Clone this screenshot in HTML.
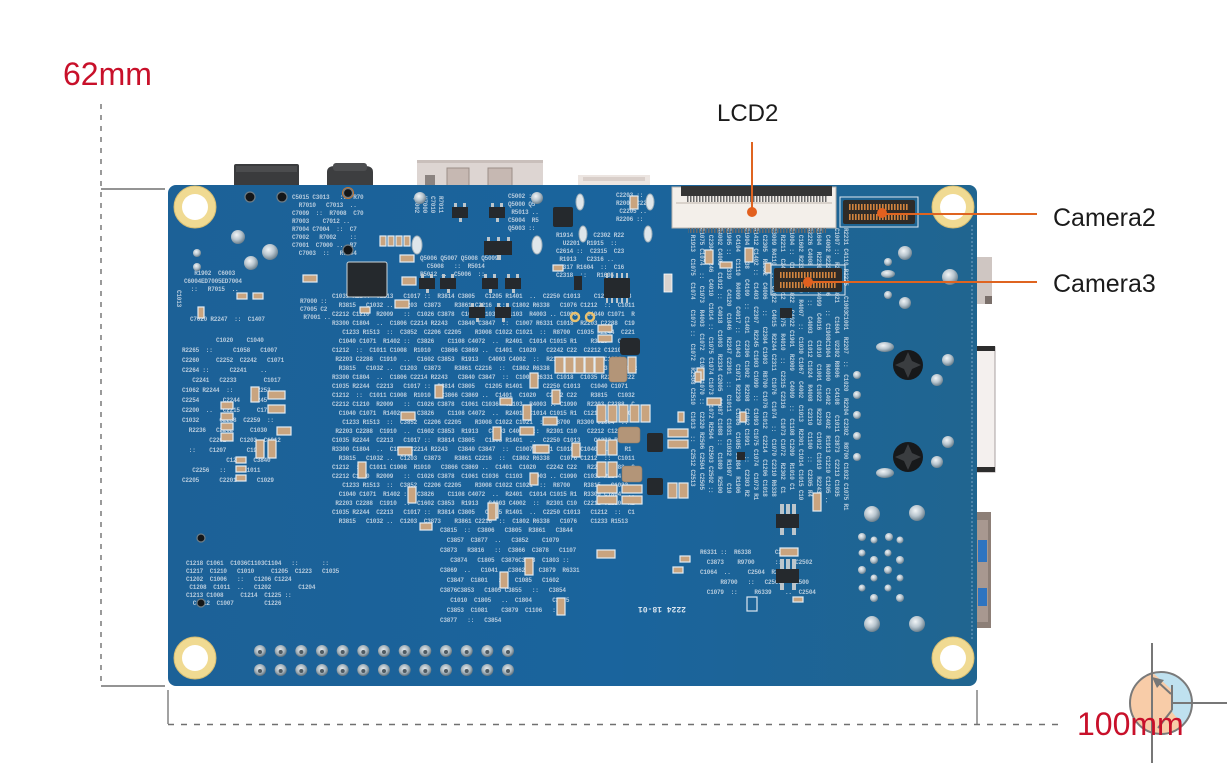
<!DOCTYPE html>
<html><head><meta charset="utf-8">
<style>
html,body{margin:0;padding:0;background:#fff;}
#c{position:relative;width:1227px;height:763px;overflow:hidden;background:#fff;}
#c svg{position:absolute;left:0;top:0;}
.b,.v{position:absolute;overflow:hidden;color:#d2deea;opacity:.85;font:bold 6px/8px "Liberation Mono",monospace;white-space:pre;letter-spacing:-0.2px;}
.v{writing-mode:vertical-rl;}
.sp{line-height:10px;}
.m{line-height:9px;}
</style></head>
<body><div id="c">

<svg width="1227" height="763" style="z-index:0">
<defs>
<linearGradient id="bd" x1="0" x2="1" y1="0" y2="0">
<stop offset="0" stop-color="#1c6197"/><stop offset=".55" stop-color="#1a649d"/><stop offset="1" stop-color="#206590"/>
</linearGradient>
</defs>
<g stroke="#707070" fill="none">
<line x1="101" y1="104" x2="101" y2="686" stroke-width="1.4" stroke-dasharray="5 6"/>
<line x1="101" y1="189" x2="165" y2="189" stroke-width="1.6"/>
<line x1="101" y1="686" x2="165" y2="686" stroke-width="1.6"/>
<line x1="168" y1="690" x2="168" y2="724" stroke-width="1.3"/>
<line x1="977" y1="690" x2="977" y2="724" stroke-width="1.3"/>
<line x1="168" y1="724.5" x2="1062" y2="724.5" stroke-width="1.4" stroke-dasharray="6 7"/>
</g>
<rect x="234" y="164" width="65" height="24" rx="2" fill="#3a3b3d"/>
<rect x="236" y="166" width="61" height="6" fill="#4b4c4e"/>
<path d="M327 188 V172 Q327 166 335 166 H365 Q373 166 373 172 V188Z" fill="#3d3e40"/>
<rect x="333" y="163" width="34" height="8" rx="3" fill="#4d4e50"/>
<rect x="417" y="160" width="126" height="28" fill="#ddd5d2"/>
<rect x="417" y="160" width="126" height="3" fill="#c9bfbb"/>
<rect x="447" y="168" width="22" height="18" fill="#c6b8b2" stroke="#9c8e88"/>
<rect x="488" y="168" width="24" height="18" fill="#c6b8b2" stroke="#9c8e88"/>
<rect x="425" y="175" width="10" height="11" fill="#8b8380"/>
<rect x="578" y="175" width="72" height="13" fill="#ece5e1"/>
<rect x="583" y="177" width="62" height="4" fill="#d9cfca"/>
<rect x="974" y="257" width="18" height="47" fill="#cfc6c2"/>
<rect x="985" y="296" width="7" height="8" fill="#7a6f6a"/>
<rect x="974" y="347" width="21" height="125" fill="#f4f0ee" stroke="#a8a0a0"/>
<rect x="976" y="346" width="19" height="5" fill="#2d2d2d"/>
<rect x="976" y="467" width="19" height="5" fill="#2d2d2d"/>
<rect x="974" y="512" width="17" height="116" fill="#8d7f77"/>
<rect x="977" y="520" width="11" height="102" fill="#a89890"/>
<rect x="978" y="540" width="9" height="22" fill="#2e74c0"/>
<rect x="978" y="588" width="9" height="18" fill="#2e74c0"/>
<rect x="168" y="185" width="809" height="501" rx="8" fill="url(#bd)"/>
<line x1="972" y1="225" x2="972" y2="640" stroke="#8fb4d0" stroke-width="0.8" stroke-dasharray="2 2"/>
</svg>

<!-- silkscreen text -->
<div class="b" style="left:292px;top:194px;width:118px;height:64px">C5015 C3013   ::  R70
  R7010   C7013  ..
C7009  ::  R7008  C70
R7003    C7012 ..
R7004 C7004  ::  C7
C7002   R7002    ::
C7001  C7000 ..  R7
  C7003  ::   R7004</div>
<div class="v" style="left:412px;top:196px;width:32px;height:46px">R7011
C7010
U7000
Q5002</div>
<div class="b" style="left:508px;top:193px;width:46px;height:44px">C5002 ::
Q5000 Q5
 R5013 ..
C5004  R5
Q5003 ::</div>
<div class="b" style="left:556px;top:232px;width:112px;height:54px">R1914  ::  C2302 R22
  U2201  R1915  ::
C2614 ::  C2315  C23
 R1913   C2316 ..
C2317 R1604  ::  C16
C2318  ::   R1605</div>
<div class="b" style="left:616px;top:192px;width:52px;height:36px">C2203 ::
R2004 C22
 C2205 ..
R2206 ::</div>
<div class="b" style="left:184px;top:270px;width:108px;height:30px">   R1902  C6003
C6004ED7005ED7004
  ::   R7015  ..</div>
<div class="v" style="left:172px;top:290px;width:10px;height:32px">C1013</div>
<div class="b" style="left:190px;top:316px;width:130px;height:16px">C7020 R2247  ::  C1407</div>
<div class="b" style="left:300px;top:298px;width:48px;height:26px">R7000 ::
C7005 C2
 R7001 ..</div>
<div class="b" style="left:420px;top:255px;width:130px;height:24px">Q5006 Q5007 Q5008 Q5009
  C5008   ::  R5014
R5012 ..  C5006  ::</div>

<div class="b m" style="left:332px;top:292px;width:336px;height:232px">C1035 R2244  C2213   C1017 ::  R3814 C3805   C1205 R1401  ..  C2250 C1013    C1233 R1513
  R3815   C1032 ..  C1203  C3873    R3861 C2216  ::  C1802 R6338   C1076 C1212  ::  C1011
C2212 C1210  R2009   ::  C1026 C3878  C1061 C1036  C1103  R4003 .. C1090   C1040 C1071  R
R3300 C1804  ..  C1806 C2214 R2243   C3840 C3847  ::  C1007 R6331 C1018  R2203 C2288  C19
   C1233 R1513  ::  C3852  C2206 C2205    R3008 C1022 C1021  ::  R8700  C1035 R2244  C221
  C1040 C1071  R1402 ::  C3826    C1108 C4072  ..  R2401  C1014 C1015 R1    R3815   C1032
C1212  ::  C1011 C1008  R1010   C3866 C3869 ..  C1401  C1020   C2242 C22  C2212 C1210  R20
 R2203 C2288  C1910  ..  C1602 C3853  R1913   C4003 C4002  ::  R2301 C10  R3300 C1804  ..
  R3815   C1032 ..  C1203  C3873    R3861 C2216  ::  C1802 R6338   C1076    C1233 R1513  :
R3300 C1804  ..  C1806 C2214 R2243   C3840 C3847  ::  C1007 R6331 C1018  C1035 R2244  C22
C1035 R2244  C2213   C1017 ::  R3814 C3805   C1205 R1401  ..  C2250 C1013   C1040 C1071
C1212  ::  C1011 C1008  R1010   C3866 C3869 ..  C1401  C1020   C2242 C22    R3815   C1032
C2212 C1210  R2009   ::  C1026 C3878  C1061 C1036  C1103  R4003 .. C1090   R2203 C2288  C
  C1040 C1071  R1402 ::  C3826    C1108 C4072  ..  R2401  C1014 C1015 R1  C1212  ::  C101
   C1233 R1513  ::  C3852  C2206 C2205    R3008 C1022 C1021  ::  R8700  R3300 C1804  ..
 R2203 C2288  C1910  ..  C1602 C3853  R1913   C4003 C4002  ::  R2301 C10   C2212 C1210  R2
C1035 R2244  C2213   C1017 ::  R3814 C3805   C1205 R1401  ..  C2250 C1013    C1233 R1513
R3300 C1804  ..  C1806 C2214 R2243   C3840 C3847  ::  C1007 R6331 C1018  C1040 C1071  R1
  R3815   C1032 ..  C1203  C3873    R3861 C2216  ::  C1802 R6338   C1076 C1212  ::  C1011
C1212  ::  C1011 C1008  R1010   C3866 C3869 ..  C1401  C1020   C2242 C22   R2203 C2288  C
C2212 C1210  R2009   ::  C1026 C3878  C1061 C1036  C1103  R4003 .. C1090  C1035 R2244  C2
   C1233 R1513  ::  C3852  C2206 C2205    R3008 C1022 C1021  ::  R8700    R3815   C1032
  C1040 C1071  R1402 ::  C3826    C1108 C4072  ..  R2401  C1014 C1015 R1  R3300 C1804  ..
 R2203 C2288  C1910  ..  C1602 C3853  R1913   C4003 C4002  ::  R2301 C10  C2212 C1210  R2
C1035 R2244  C2213   C1017 ::  R3814 C3805   C1205 R1401  ..  C2250 C1013   C1212  ::  C1
  R3815   C1032 ..  C1203  C3873    R3861 C2216  ::  C1802 R6338   C1076    C1233 R1513</div>

<div class="b sp" style="left:182px;top:336px;width:150px;height:150px">          C1020    C1040
R2265  ::      C1058   C1007
C2260     C2252  C2242   C1071
C2264 ::      C2241    ..
   C2241   C2233        C1017
C1062 R2244  ::      C2253
C2254       C2244   R2245
C2200  ..   C2215     C1710
C1032      C2258  C2259  ::
  R2236   C2262     C1030
        C2202    C1203  C1012
  ::    C1207      C1906
             C1203   C3840
   C2256   ::     C1011
C2205      C2201      C1029</div>

<div class="b" style="left:186px;top:560px;width:296px;height:54px">C1218 C1061  C1036C1103C1104   ::       ::
C1217  C1210   C1010     C1205  C1223   C1035
C1202  C1006   ::   C1206 C1224
 C1208  C1011  ..   C1202        C1204
C1213 C1008     C1214  C1225 ::
  C1212  C1007         C1226</div>

<div class="b sp" style="left:440px;top:526px;width:250px;height:104px">C3815  ::  C3806   C3805  R3861   C3844
  C3857  C3877  ..   C3852    C1079
C3873   R3816   ::  C3866  C3878   C1107
   C3874   C1805  C3876C3853  C1803 ::
C3869  ..   C1041   C3862    C3879  R6331
  C3847  C1801   ::   C1085   C1602
C3876C3853   C1805 C3855   ::   C3854
   C1010  C1805   ..  C1804      C3875
  C3853  C1081    C3879  C1106   ::
C3877   ::   C3854</div>

<div class="v" style="left:690px;top:228px;width:160px;height:320px;line-height:9px">R2231 C4110 R2225   C1003C1001  R2207  ::  C1020  R2204 C2302  R8700 C1032 C1075 R1
C1007 ::  R2230  C4021    C1604  U2302 R8606   C4108   C1011 C3873  C2213 C1035
  C4002 R2225  C1006    ::  C1908C1904  R4000  C1402  C2402  R1913 C1210 C1205 ..
C1604  R2230  ::  C4099  C4016   C1010  C1001 C1022  R2229  C1012 C1019  R2243 C1
R2226 C4008   C1041  ::   C4003  C1012 C1024  R4008  C2310  C1100  ::  C2305 R4
  C1602 R2338 C1099  R4007  ::  C1030 C1067  C4002  C1013  R2301 C1014 C1015 C10
C1004 ::  C1018  R4022  C4022 C1901  R2009   C4009  ::  C1108 C1209  R1010 C1
  R2211  C2403  C4012   C1075  R4010  ::  C2315 C2316   C1073 C1072  R2302  C1
C3009 R4110  ::  C1022  C4015  R2244 C2311  C1076  C1074  ::  C1070 C2310 R6338
  C2305  R2302  C4006   ::   C2304 C1903  R8700 C1076 C1012  C2214  C1206 C1018
R1412 C1402 ::  C1403  C2307  R2245 C1903 C1099  ::  C1093 C1075 C1074  C1073 R1
C1904  R2238   C4109  ::  C1401  C2306 C1002  R2208  C1092 C1091   ::  C2303 R2
  C4104  C1110  R4009  C4017 ::  C1043  C1071 R2230  C1086  C1085 C1084  R1906
C1905 ::  R2339   C4120  C1046  R2247 C2301  ::  C1011  C1031 C1032 R1907  C10
R4002 C4003  C1012 ::  C4018  C1003  R2334 C2005  C1087 C1088 ::  C1089  R2500
  C2304 R2246  C4010  C1014 ::  C1075 C1074 C1073  C1072 R2504  C2503 C2502 ::
C1075 C1074  ::  C1073  R4003  C1072  C1071 C1070 ::  C2320 R2506 C2504 C2505
  R1913  C1075  C1074   C1073 ::  C1072  R2508 C2510  C1013  ::  C2512 C2513</div>

<div class="b sp" style="left:700px;top:548px;width:150px;height:62px">R6331 ::  R6338       C2503
  C3873    R9700      ::    C2502
C1064  ..     C2504  R2504
      R8700   ::   C2506   C2500
  C1079  ::     R6339    ..  C2504</div>

<!-- components / overlay -->
<svg width="1227" height="763" style="z-index:2">
<defs>
<radialGradient id="sg" cx=".4" cy=".35" r=".7">
<stop offset="0" stop-color="#f2f5f7"/><stop offset=".5" stop-color="#b9c6cf"/><stop offset="1" stop-color="#5f7584"/>
</radialGradient>
<radialGradient id="pg" cx=".45" cy=".4" r=".6">
<stop offset="0" stop-color="#e6ecef"/><stop offset=".6" stop-color="#a7b4bc"/><stop offset="1" stop-color="#5d6f7b"/>
</radialGradient>
<pattern id="pins" width="3" height="5" patternUnits="userSpaceOnUse">
<rect width="1.6" height="5" fill="#d2843e"/>
</pattern>
<pattern id="gp" width="3" height="6" patternUnits="userSpaceOnUse">
<rect width="1.5" height="6" fill="#6a6a6a"/>
</pattern>
</defs>
<style>
.c{fill:#c9a47f;stroke:#e3ecf3;stroke-width:1.2}
.k{fill:#25292d}
.i{fill:#b39578;stroke:#8f7a64;stroke-width:.6}
.sb{fill:url(#sg)}
.h{fill:#141618;stroke:#6d7c86;stroke-width:1.2}
.pn{fill:#bcc6cc}
</style>

<g fill="#f0da92" stroke="#d6bd72" stroke-width="1">
<circle cx="195" cy="207" r="21"/><circle cx="953" cy="207" r="21"/>
<circle cx="195" cy="658" r="21"/><circle cx="953" cy="658" r="21"/>
</g>
<g fill="#ffffff">
<circle cx="195" cy="207" r="13"/><circle cx="953" cy="207" r="13"/>
<circle cx="195" cy="658" r="13"/><circle cx="953" cy="658" r="13"/>
</g>

<circle class="h" cx="250" cy="197" r="5"/><circle class="h" cx="282" cy="197" r="5"/>
<circle cx="348" cy="193" r="6" fill="#c9742e"/><circle class="h" cx="348" cy="193" r="4.5"/>
<circle class="h" cx="348" cy="250" r="5"/>
<circle class="h" cx="201" cy="538" r="4"/><circle class="h" cx="201" cy="603" r="4"/>

<circle class="sb" cx="238" cy="237" r="7"/><circle class="sb" cx="270" cy="252" r="8"/>
<circle class="sb" cx="251" cy="263" r="7"/><circle class="sb" cx="197" cy="253" r="4"/>
<circle class="sb" cx="197" cy="267" r="4"/><circle class="sb" cx="420" cy="198" r="6"/>
<circle class="sb" cx="537" cy="198" r="6"/>
<g fill="#dfe6ea" stroke="#9fb0bb" stroke-width="1">
<ellipse cx="417" cy="245" rx="5" ry="9"/><ellipse cx="537" cy="245" rx="5" ry="9"/>
<ellipse cx="580" cy="202" rx="4" ry="8"/><ellipse cx="650" cy="202" rx="4" ry="8"/>
<ellipse cx="583" cy="234" rx="4" ry="8"/><ellipse cx="648" cy="234" rx="4" ry="8"/>
</g>
<circle cx="575" cy="317" r="4" fill="none" stroke="#e6c070" stroke-width="2.5"/>
<circle cx="590" cy="317" r="4" fill="none" stroke="#e6c070" stroke-width="2.5"/>
<rect x="664" y="274" width="8" height="18" fill="#d9d3cf" stroke="#fff" stroke-width=".8"/>

<rect class="k" x="347" y="262" width="40" height="35" rx="2" stroke="#cdd6dc" stroke-width="1"/>
<rect class="k" x="553" y="207" width="20" height="20" rx="2"/>
<g class="pn">
<rect x="606" y="273" width="2" height="5"/><rect x="611" y="273" width="2" height="5"/><rect x="616" y="273" width="2" height="5"/><rect x="621" y="273" width="2" height="5"/><rect x="626" y="273" width="2" height="5"/>
<rect x="606" y="298" width="2" height="5"/><rect x="611" y="298" width="2" height="5"/><rect x="616" y="298" width="2" height="5"/><rect x="621" y="298" width="2" height="5"/><rect x="626" y="298" width="2" height="5"/>
</g>
<rect class="k" x="604" y="278" width="26" height="20" rx="1"/>
<g class="pn">
<rect x="454" y="203" width="3" height="4"/><rect x="463" y="203" width="3" height="4"/><rect x="459" y="218" width="3" height="4"/>
<rect x="491" y="203" width="3" height="4"/><rect x="500" y="203" width="3" height="4"/><rect x="496" y="218" width="3" height="4"/>
<rect x="487" y="237" width="3" height="4"/><rect x="497" y="237" width="3" height="4"/><rect x="507" y="237" width="3" height="4"/><rect x="497" y="255" width="4" height="5"/>
<rect x="421" y="274" width="3" height="4"/><rect x="430" y="274" width="3" height="4"/><rect x="426" y="289" width="3" height="4"/>
<rect x="442" y="274" width="3" height="4"/><rect x="451" y="274" width="3" height="4"/><rect x="447" y="289" width="3" height="4"/>
<rect x="484" y="274" width="3" height="4"/><rect x="493" y="274" width="3" height="4"/><rect x="489" y="289" width="3" height="4"/>
<rect x="507" y="274" width="3" height="4"/><rect x="516" y="274" width="3" height="4"/><rect x="512" y="289" width="3" height="4"/>
<rect x="471" y="303" width="3" height="4"/><rect x="480" y="303" width="3" height="4"/><rect x="476" y="318" width="3" height="4"/>
<rect x="497" y="303" width="3" height="4"/><rect x="506" y="303" width="3" height="4"/><rect x="502" y="318" width="3" height="4"/>
</g>
<g class="k">
<rect x="452" y="207" width="16" height="11"/><rect x="489" y="207" width="16" height="11"/>
<rect x="484" y="241" width="28" height="14"/>
<rect x="419" y="278" width="16" height="11"/><rect x="440" y="278" width="16" height="11"/>
<rect x="482" y="278" width="16" height="11"/><rect x="505" y="278" width="16" height="11"/>
<rect x="469" y="307" width="16" height="11"/><rect x="495" y="307" width="16" height="11"/>
<rect x="780" y="308" width="12" height="10"/>
<rect x="620" y="338" width="20" height="17" rx="3"/>
<rect x="647" y="433" width="16" height="19" rx="2"/>
<rect x="647" y="478" width="16" height="17" rx="2"/>
<rect x="574" y="276" width="8" height="14"/>
<rect x="737" y="452" width="8" height="8"/>
</g>

<g class="pn">
<rect x="780" y="504" width="4" height="11"/><rect x="786" y="504" width="4" height="11"/><rect x="792" y="504" width="4" height="11"/>
<rect x="780" y="559" width="4" height="11"/><rect x="786" y="559" width="4" height="11"/><rect x="792" y="559" width="4" height="11"/>
<rect x="780" y="528" width="4" height="7"/><rect x="792" y="528" width="4" height="7"/>
<rect x="780" y="583" width="4" height="7"/><rect x="792" y="583" width="4" height="7"/>
</g>
<rect class="k" x="776" y="514" width="23" height="14"/>
<rect class="k" x="776" y="569" width="23" height="14"/>

<g class="c">
<rect x="630" y="196" width="8" height="13"/>
<rect x="380" y="236" width="6" height="10"/><rect x="388" y="236" width="6" height="10"/><rect x="396" y="236" width="6" height="10"/><rect x="404" y="236" width="6" height="10"/>
<rect x="400" y="255" width="14" height="7"/><rect x="402" y="277" width="14" height="8"/><rect x="395" y="300" width="14" height="8"/>
<rect x="598" y="325" width="14" height="7"/><rect x="598" y="335" width="14" height="7"/>
<rect x="237" y="293" width="10" height="6"/><rect x="253" y="293" width="10" height="6"/>
<rect x="198" y="307" width="6" height="11"/><rect x="303" y="275" width="14" height="7"/>
<rect x="360" y="307" width="10" height="6"/><rect x="553" y="265" width="10" height="6"/>
<rect x="555" y="357" width="9" height="16"/><rect x="565" y="357" width="9" height="16"/><rect x="575" y="357" width="9" height="16"/><rect x="585" y="357" width="9" height="16"/><rect x="595" y="357" width="9" height="16"/>
<rect x="628" y="357" width="8" height="16"/>
<rect x="597" y="405" width="9" height="17"/><rect x="608" y="405" width="9" height="17"/><rect x="619" y="405" width="9" height="17"/><rect x="630" y="405" width="9" height="17"/><rect x="641" y="405" width="9" height="17"/>
<rect x="597" y="440" width="9" height="15"/><rect x="608" y="440" width="9" height="15"/>
<rect x="668" y="429" width="20" height="8"/><rect x="668" y="440" width="20" height="8"/>
<rect x="597" y="462" width="9" height="15"/><rect x="608" y="462" width="9" height="15"/>
<rect x="597" y="485" width="20" height="8"/><rect x="597" y="496" width="20" height="8"/>
<rect x="622" y="485" width="20" height="8"/><rect x="622" y="496" width="20" height="8"/>
<rect x="668" y="483" width="9" height="15"/><rect x="679" y="483" width="9" height="15"/>
<rect x="435" y="385" width="8" height="13"/><rect x="500" y="398" width="12" height="7"/>
<rect x="523" y="405" width="8" height="15"/><rect x="530" y="373" width="8" height="15"/>
<rect x="552" y="390" width="8" height="14"/><rect x="543" y="417" width="14" height="8"/>
<rect x="520" y="427" width="14" height="8"/><rect x="493" y="427" width="8" height="13"/>
<rect x="533" y="445" width="14" height="8"/><rect x="572" y="443" width="8" height="14"/>
<rect x="490" y="503" width="8" height="15"/><rect x="697" y="368" width="7" height="12"/>
<rect x="707" y="398" width="14" height="7"/><rect x="678" y="412" width="6" height="10"/>
<rect x="251" y="387" width="8" height="15"/><rect x="268" y="391" width="17" height="8"/><rect x="268" y="405" width="17" height="8"/>
<rect x="221" y="402" width="12" height="7"/><rect x="221" y="413" width="12" height="7"/><rect x="221" y="423" width="12" height="7"/><rect x="221" y="433" width="12" height="8"/>
<rect x="256" y="440" width="8" height="18"/><rect x="268" y="440" width="8" height="18"/><rect x="277" y="427" width="14" height="8"/>
<rect x="236" y="457" width="10" height="6"/><rect x="236" y="466" width="10" height="6"/><rect x="236" y="475" width="10" height="6"/>
<rect x="358" y="462" width="8" height="16"/><rect x="401" y="412" width="14" height="8"/><rect x="398" y="447" width="14" height="8"/>
<rect x="408" y="487" width="8" height="16"/><rect x="488" y="503" width="8" height="17"/>
<rect x="535" y="445" width="14" height="8"/><rect x="530" y="473" width="8" height="12"/>
<rect x="525" y="558" width="8" height="17"/><rect x="500" y="572" width="8" height="16"/>
<rect x="557" y="598" width="8" height="17"/><rect x="420" y="523" width="12" height="7"/>
<rect x="813" y="493" width="8" height="18"/><rect x="780" y="548" width="18" height="8"/>
<rect x="597" y="550" width="18" height="8"/><rect x="680" y="556" width="10" height="6"/>
<rect x="673" y="567" width="10" height="6"/><rect x="793" y="597" width="10" height="5"/>
<rect x="695" y="372" width="6" height="10"/><rect x="740" y="412" width="6" height="10"/>
<rect x="765" y="263" width="6" height="10"/><rect x="720" y="262" width="12" height="6"/>
<rect x="745" y="248" width="8" height="14"/><rect x="705" y="250" width="8" height="14"/>
</g>
<g class="i">
<rect x="609" y="357" width="18" height="25" rx="3"/>
<rect x="618" y="427" width="22" height="16" rx="3"/>
<rect x="622" y="466" width="20" height="16" rx="3"/>
</g>

<rect x="672" y="187" width="164" height="41" fill="#f3efea" stroke="#b9b3ad" stroke-width="1"/>
<rect x="681" y="186" width="151" height="10" fill="#353535"/>
<rect x="686" y="196" width="141" height="6" fill="url(#gp)"/>
<rect x="688" y="228" width="138" height="5" fill="url(#gp)"/>
<rect x="676" y="202" width="156" height="2" fill="#d9d2cb"/>

<rect x="840" y="197" width="78" height="30" fill="none" stroke="#dfe8f0" stroke-width="1"/>
<rect x="843" y="200" width="72" height="24" rx="2" fill="#2f2b28"/>
<rect x="849" y="204" width="60" height="6" fill="url(#pins)"/>
<rect x="849" y="214" width="60" height="6" fill="url(#pins)"/>
<rect x="771" y="265" width="74" height="30" fill="none" stroke="#dfe8f0" stroke-width="1"/>
<rect x="774" y="268" width="68" height="24" rx="2" fill="#2f2b28"/>
<rect x="780" y="272" width="56" height="6" fill="url(#pins)"/>
<rect x="780" y="282" width="56" height="6" fill="url(#pins)"/>

<circle class="sb" cx="905" cy="253" r="7"/><circle class="sb" cx="888" cy="262" r="4"/>
<ellipse class="sb" cx="888" cy="274" rx="7" ry="4"/><circle class="sb" cx="888" cy="295" r="4"/>
<circle class="sb" cx="905" cy="303" r="6"/><circle class="sb" cx="950" cy="277" r="8"/>
<ellipse class="sb" cx="885" cy="347" rx="9" ry="5"/><circle class="sb" cx="948" cy="360" r="6"/>
<circle class="sb" cx="937" cy="380" r="6"/><circle class="sb" cx="948" cy="442" r="6"/>
<circle class="sb" cx="937" cy="462" r="6"/><ellipse class="sb" cx="885" cy="473" rx="9" ry="5"/>
<circle class="sb" cx="857" cy="375" r="4"/><circle class="sb" cx="857" cy="395" r="4"/>
<circle class="sb" cx="857" cy="415" r="4"/><circle class="sb" cx="857" cy="436" r="4"/>
<circle class="sb" cx="857" cy="457" r="4"/>
<circle class="sb" cx="872" cy="514" r="8"/><circle class="sb" cx="917" cy="513" r="8"/>
<circle class="sb" cx="872" cy="624" r="8"/><circle class="sb" cx="917" cy="624" r="8"/>
<g class="sb">
<circle cx="862" cy="537" r="4"/><circle cx="874" cy="540" r="3.5"/><circle cx="889" cy="537" r="4"/><circle cx="900" cy="540" r="3.5"/>
<circle cx="862" cy="553" r="3.5"/><circle cx="874" cy="560" r="4"/><circle cx="888" cy="553" r="3.5"/><circle cx="900" cy="560" r="4"/>
<circle cx="862" cy="570" r="4"/><circle cx="874" cy="578" r="3.5"/><circle cx="888" cy="570" r="4"/><circle cx="900" cy="578" r="3.5"/>
<circle cx="862" cy="588" r="3.5"/><circle cx="874" cy="598" r="4"/><circle cx="888" cy="588" r="3.5"/><circle cx="900" cy="598" r="4"/>
</g>
<circle cx="908" cy="365" r="15" fill="#17191b"/>
<path d="M908 352 L912 361 L921 365 L912 369 L908 378 L904 369 L895 365 L904 361Z" fill="#3a3d40"/>
<circle cx="908" cy="457" r="15" fill="#17191b"/>
<path d="M908 444 L912 453 L921 457 L912 461 L908 470 L904 461 L895 457 L904 453Z" fill="#3a3d40"/>

<g>
<circle cx="260" cy="651" r="6" fill="url(#pg)"/><circle cx="280.7" cy="651" r="6" fill="url(#pg)"/><circle cx="301.3" cy="651" r="6" fill="url(#pg)"/><circle cx="322" cy="651" r="6" fill="url(#pg)"/><circle cx="342.7" cy="651" r="6" fill="url(#pg)"/><circle cx="363.3" cy="651" r="6" fill="url(#pg)"/><circle cx="384" cy="651" r="6" fill="url(#pg)"/><circle cx="404.7" cy="651" r="6" fill="url(#pg)"/><circle cx="425.3" cy="651" r="6" fill="url(#pg)"/><circle cx="446" cy="651" r="6" fill="url(#pg)"/><circle cx="466.7" cy="651" r="6" fill="url(#pg)"/><circle cx="487.3" cy="651" r="6" fill="url(#pg)"/><circle cx="508" cy="651" r="6" fill="url(#pg)"/>
<circle cx="260" cy="670" r="6" fill="url(#pg)"/><circle cx="280.7" cy="670" r="6" fill="url(#pg)"/><circle cx="301.3" cy="670" r="6" fill="url(#pg)"/><circle cx="322" cy="670" r="6" fill="url(#pg)"/><circle cx="342.7" cy="670" r="6" fill="url(#pg)"/><circle cx="363.3" cy="670" r="6" fill="url(#pg)"/><circle cx="384" cy="670" r="6" fill="url(#pg)"/><circle cx="404.7" cy="670" r="6" fill="url(#pg)"/><circle cx="425.3" cy="670" r="6" fill="url(#pg)"/><circle cx="446" cy="670" r="6" fill="url(#pg)"/><circle cx="466.7" cy="670" r="6" fill="url(#pg)"/><circle cx="487.3" cy="670" r="6" fill="url(#pg)"/><circle cx="508" cy="670" r="6" fill="url(#pg)"/>
</g>
<g fill="#4e5a62">
<circle cx="260" cy="652" r="2"/><circle cx="280.7" cy="652" r="2"/><circle cx="301.3" cy="652" r="2"/><circle cx="322" cy="652" r="2"/><circle cx="342.7" cy="652" r="2"/><circle cx="363.3" cy="652" r="2"/><circle cx="384" cy="652" r="2"/><circle cx="404.7" cy="652" r="2"/><circle cx="425.3" cy="652" r="2"/><circle cx="446" cy="652" r="2"/><circle cx="466.7" cy="652" r="2"/><circle cx="487.3" cy="652" r="2"/><circle cx="508" cy="652" r="2"/>
<circle cx="260" cy="671" r="2"/><circle cx="280.7" cy="671" r="2"/><circle cx="301.3" cy="671" r="2"/><circle cx="322" cy="671" r="2"/><circle cx="342.7" cy="671" r="2"/><circle cx="363.3" cy="671" r="2"/><circle cx="384" cy="671" r="2"/><circle cx="404.7" cy="671" r="2"/><circle cx="425.3" cy="671" r="2"/><circle cx="446" cy="671" r="2"/><circle cx="466.7" cy="671" r="2"/><circle cx="487.3" cy="671" r="2"/><circle cx="508" cy="671" r="2"/>
</g>

<rect x="747" y="597" width="10" height="14" fill="none" stroke="#dbe6f0" stroke-width="1.2"/>
<text x="742" y="603" transform="rotate(180 714 605)" font-family="Liberation Mono, monospace" font-size="8" font-weight="bold" fill="#dbe6f0">2224 18-01</text>

<g stroke="#df6420" stroke-width="2" fill="none">
<line x1="752" y1="142" x2="752" y2="212"/>
<line x1="882" y1="214" x2="1037" y2="214"/>
<line x1="808" y1="282" x2="1037" y2="282"/>
</g>
<g fill="#e2601f">
<circle cx="752" cy="212" r="5"/><circle cx="882" cy="213" r="5"/><circle cx="808" cy="282" r="5"/>
</g>

<g font-family="Liberation Sans, Arial, sans-serif" fill="#1b1b1b">
<text x="717" y="121" font-size="24">LCD2</text>
<text x="1053" y="226" font-size="25">Camera2</text>
<text x="1053" y="292" font-size="25">Camera3</text>
</g>

<circle cx="1161" cy="703" r="31" fill="#f8cca8"/>
<path d="M1153 673 A31 31 0 0 1 1183 725 L1172 712 L1172 690 Z" fill="#bfe1ef"/>
<circle cx="1161" cy="703" r="31" fill="none" stroke="#7a7a7a" stroke-width="2"/>
<g stroke="#777" stroke-width="2" fill="none">
<line x1="1152" y1="643" x2="1152" y2="763"/>
<line x1="1172" y1="703" x2="1227" y2="703"/>
<line x1="1172" y1="685" x2="1172" y2="710"/>
<line x1="1172" y1="710" x2="1158" y2="728"/>
<line x1="1171" y1="694" x2="1158" y2="682"/>
</g>
<polygon points="1152,677 1164,680 1157,688" fill="#777"/>

<g font-family="Liberation Sans, Arial, sans-serif" fill="#c8102a" font-size="32">
<text x="63" y="85">62mm</text>
<text x="1077" y="735">100mm</text>
</g>
</svg>
</div></body></html>
